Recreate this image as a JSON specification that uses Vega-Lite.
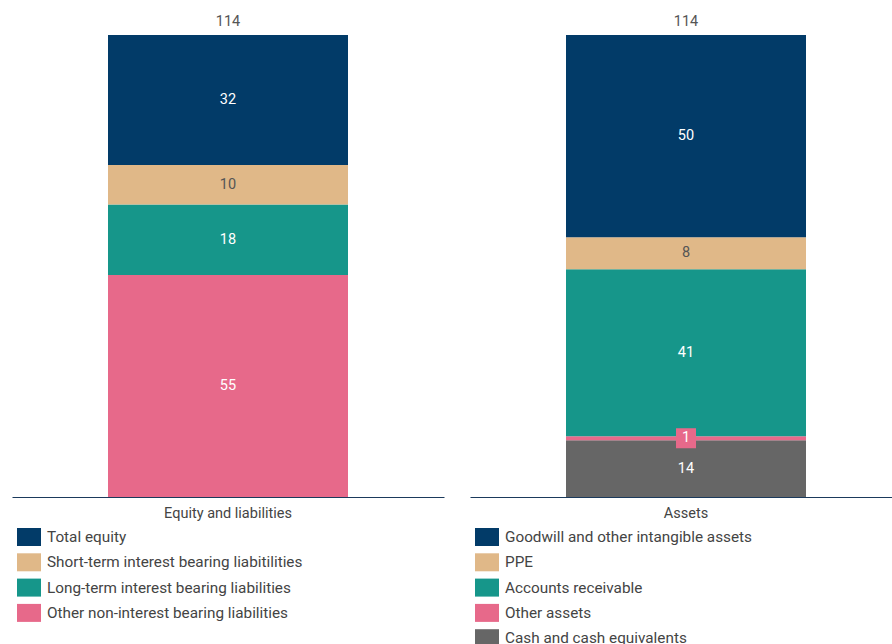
{
  "$schema": "https://vega.github.io/schema/vega-lite/v6.json",
  "padding": {"left": 12, "top": 14, "right": 0, "bottom": 0},
  "datasets": {
    "bs": [
      {"side": "Equity and liabilities", "category": "Other non-interest bearing liabilities", "order": 1, "value": 54.8, "label": "55"},
      {"side": "Equity and liabilities", "category": "Long-term interest bearing liabilities", "order": 2, "value": 17.4, "label": "18"},
      {"side": "Equity and liabilities", "category": "Short-term interest bearing liabitilities", "order": 3, "value": 9.7, "label": "10"},
      {"side": "Equity and liabilities", "category": "Total equity", "order": 4, "value": 32.1, "label": "32"},
      {"side": "Assets", "category": "Cash and cash equivalents", "order": 1, "value": 14.0, "label": "14"},
      {"side": "Assets", "category": "Other assets", "order": 2, "value": 1.0, "label": "1"},
      {"side": "Assets", "category": "Accounts receivable", "order": 3, "value": 41.2, "label": "41"},
      {"side": "Assets", "category": "PPE", "order": 4, "value": 7.9, "label": "8"},
      {"side": "Assets", "category": "Goodwill and other intangible assets", "order": 5, "value": 49.9, "label": "50"}
    ]
  },
  "spacing": 26,
  "hconcat": [
    {
      "width": 432,
      "height": 462,
      "data": {"name": "bs"},
      "transform": [
        {"filter": "datum.side === 'Equity and liabilities'"},
        {"stack": "value", "groupby": ["side"], "sort": [{"field": "order", "order": "ascending"}], "as": ["v0", "v1"]},
        {"calculate": "(datum.v0 + datum.v1) / 2", "as": "mid"}
      ],
      "encoding": {
        "x": {"field": "side", "type": "nominal", "axis": {"title": null, "labelAngle": 0, "ticks": false, "domainColor": "#1b3a5c", "domainWidth": 1, "labelColor": "#444444", "labelFontSize": 14.5, "labelPadding": 9, "labelFont": "Roboto"}}
      },
      "layer": [
        {
          "mark": {"type": "bar", "width": 240},
          "encoding": {
            "y": {"field": "v0", "type": "quantitative", "scale": {"domain": [0, 114], "nice": false}, "axis": null},
            "y2": {"field": "v1"},
            "color": {
              "field": "category", "type": "nominal",
              "scale": {
                "domain": ["Total equity", "Short-term interest bearing liabitilities", "Long-term interest bearing liabilities", "Other non-interest bearing liabilities"],
                "range": ["#023b68", "#e0b888", "#16968a", "#e7698a"]
              },
              "legend": {"orient": "none", "legendX": 8, "legendY": 493, "title": null, "symbolType": "M-1.333,-1L1.333,-1L1.333,1L-1.333,1Z", "symbolSize": 324, "symbolStrokeWidth": 0, "symbolOpacity": 1, "labelFontSize": 15.3, "labelFont": "Roboto", "labelColor": "#444444", "labelOffset": 9, "rowPadding": 7.3, "labelLimit": 400}
            }
          }
        },
        {
          "mark": {"type": "text", "fontSize": 14.5, "font": "Roboto"},
          "encoding": {
            "y": {"field": "mid", "type": "quantitative"},
            "text": {"field": "label"},
            "color": {"condition": {"test": "datum.category === 'Short-term interest bearing liabitilities'", "value": "#555555"}, "value": "#ffffff"}
          }
        },
        {
          "mark": {"type": "text", "fontSize": 14.5, "font": "Roboto", "color": "#555555", "dy": -13},
          "encoding": {
            "y": {"aggregate": "sum", "field": "value", "type": "quantitative"},
            "text": {"aggregate": "sum", "field": "value", "type": "quantitative", "format": ".0f"}
          }
        }
      ]
    },
    {
      "width": 432,
      "height": 462,
      "data": {"name": "bs"},
      "transform": [
        {"filter": "datum.side === 'Assets'"},
        {"stack": "value", "groupby": ["side"], "sort": [{"field": "order", "order": "ascending"}], "as": ["v0", "v1"]},
        {"calculate": "(datum.v0 + datum.v1) / 2", "as": "mid"}
      ],
      "encoding": {
        "x": {"field": "side", "type": "nominal", "axis": {"title": null, "labelAngle": 0, "ticks": false, "domainColor": "#1b3a5c", "domainWidth": 1, "labelColor": "#444444", "labelFontSize": 14.5, "labelPadding": 9, "labelFont": "Roboto"}}
      },
      "layer": [
        {
          "mark": {"type": "bar", "width": 240},
          "encoding": {
            "y": {"field": "v0", "type": "quantitative", "scale": {"domain": [0, 114], "nice": false}, "axis": null},
            "y2": {"field": "v1"},
            "color": {
              "field": "category", "type": "nominal",
              "scale": {
                "domain": ["Goodwill and other intangible assets", "PPE", "Accounts receivable", "Other assets", "Cash and cash equivalents"],
                "range": ["#023b68", "#e0b888", "#16968a", "#e7698a", "#666666"]
              },
              "legend": {"orient": "none", "legendX": 8, "legendY": 493, "title": null, "symbolType": "M-1.333,-1L1.333,-1L1.333,1L-1.333,1Z", "symbolSize": 324, "symbolStrokeWidth": 0, "symbolOpacity": 1, "labelFontSize": 15.3, "labelFont": "Roboto", "labelColor": "#444444", "labelOffset": 9, "rowPadding": 7.3, "labelLimit": 400}
            }
          }
        },
        {
          "transform": [{"filter": "datum.value < 3"}],
          "mark": {"type": "square", "shape": "M-0.7,-1L0.7,-1L0.7,1L-0.7,1Z", "size": 400, "opacity": 1, "color": "#e7698a"},
          "encoding": {
            "y": {"field": "mid", "type": "quantitative"}
          }
        },
        {
          "mark": {"type": "text", "fontSize": 14.5, "font": "Roboto"},
          "encoding": {
            "y": {"field": "mid", "type": "quantitative"},
            "text": {"field": "label"},
            "color": {"condition": {"test": "datum.category === 'PPE'", "value": "#555555"}, "value": "#ffffff"}
          }
        },
        {
          "mark": {"type": "text", "fontSize": 14.5, "font": "Roboto", "color": "#555555", "dy": -13},
          "encoding": {
            "y": {"aggregate": "sum", "field": "value", "type": "quantitative"},
            "text": {"aggregate": "sum", "field": "value", "type": "quantitative", "format": ".0f"}
          }
        }
      ]
    }
  ],
  "resolve": {"scale": {"color": "independent"}, "legend": {"color": "independent"}},
  "config": {"view": {"stroke": null}, "font": "Roboto"}
}
